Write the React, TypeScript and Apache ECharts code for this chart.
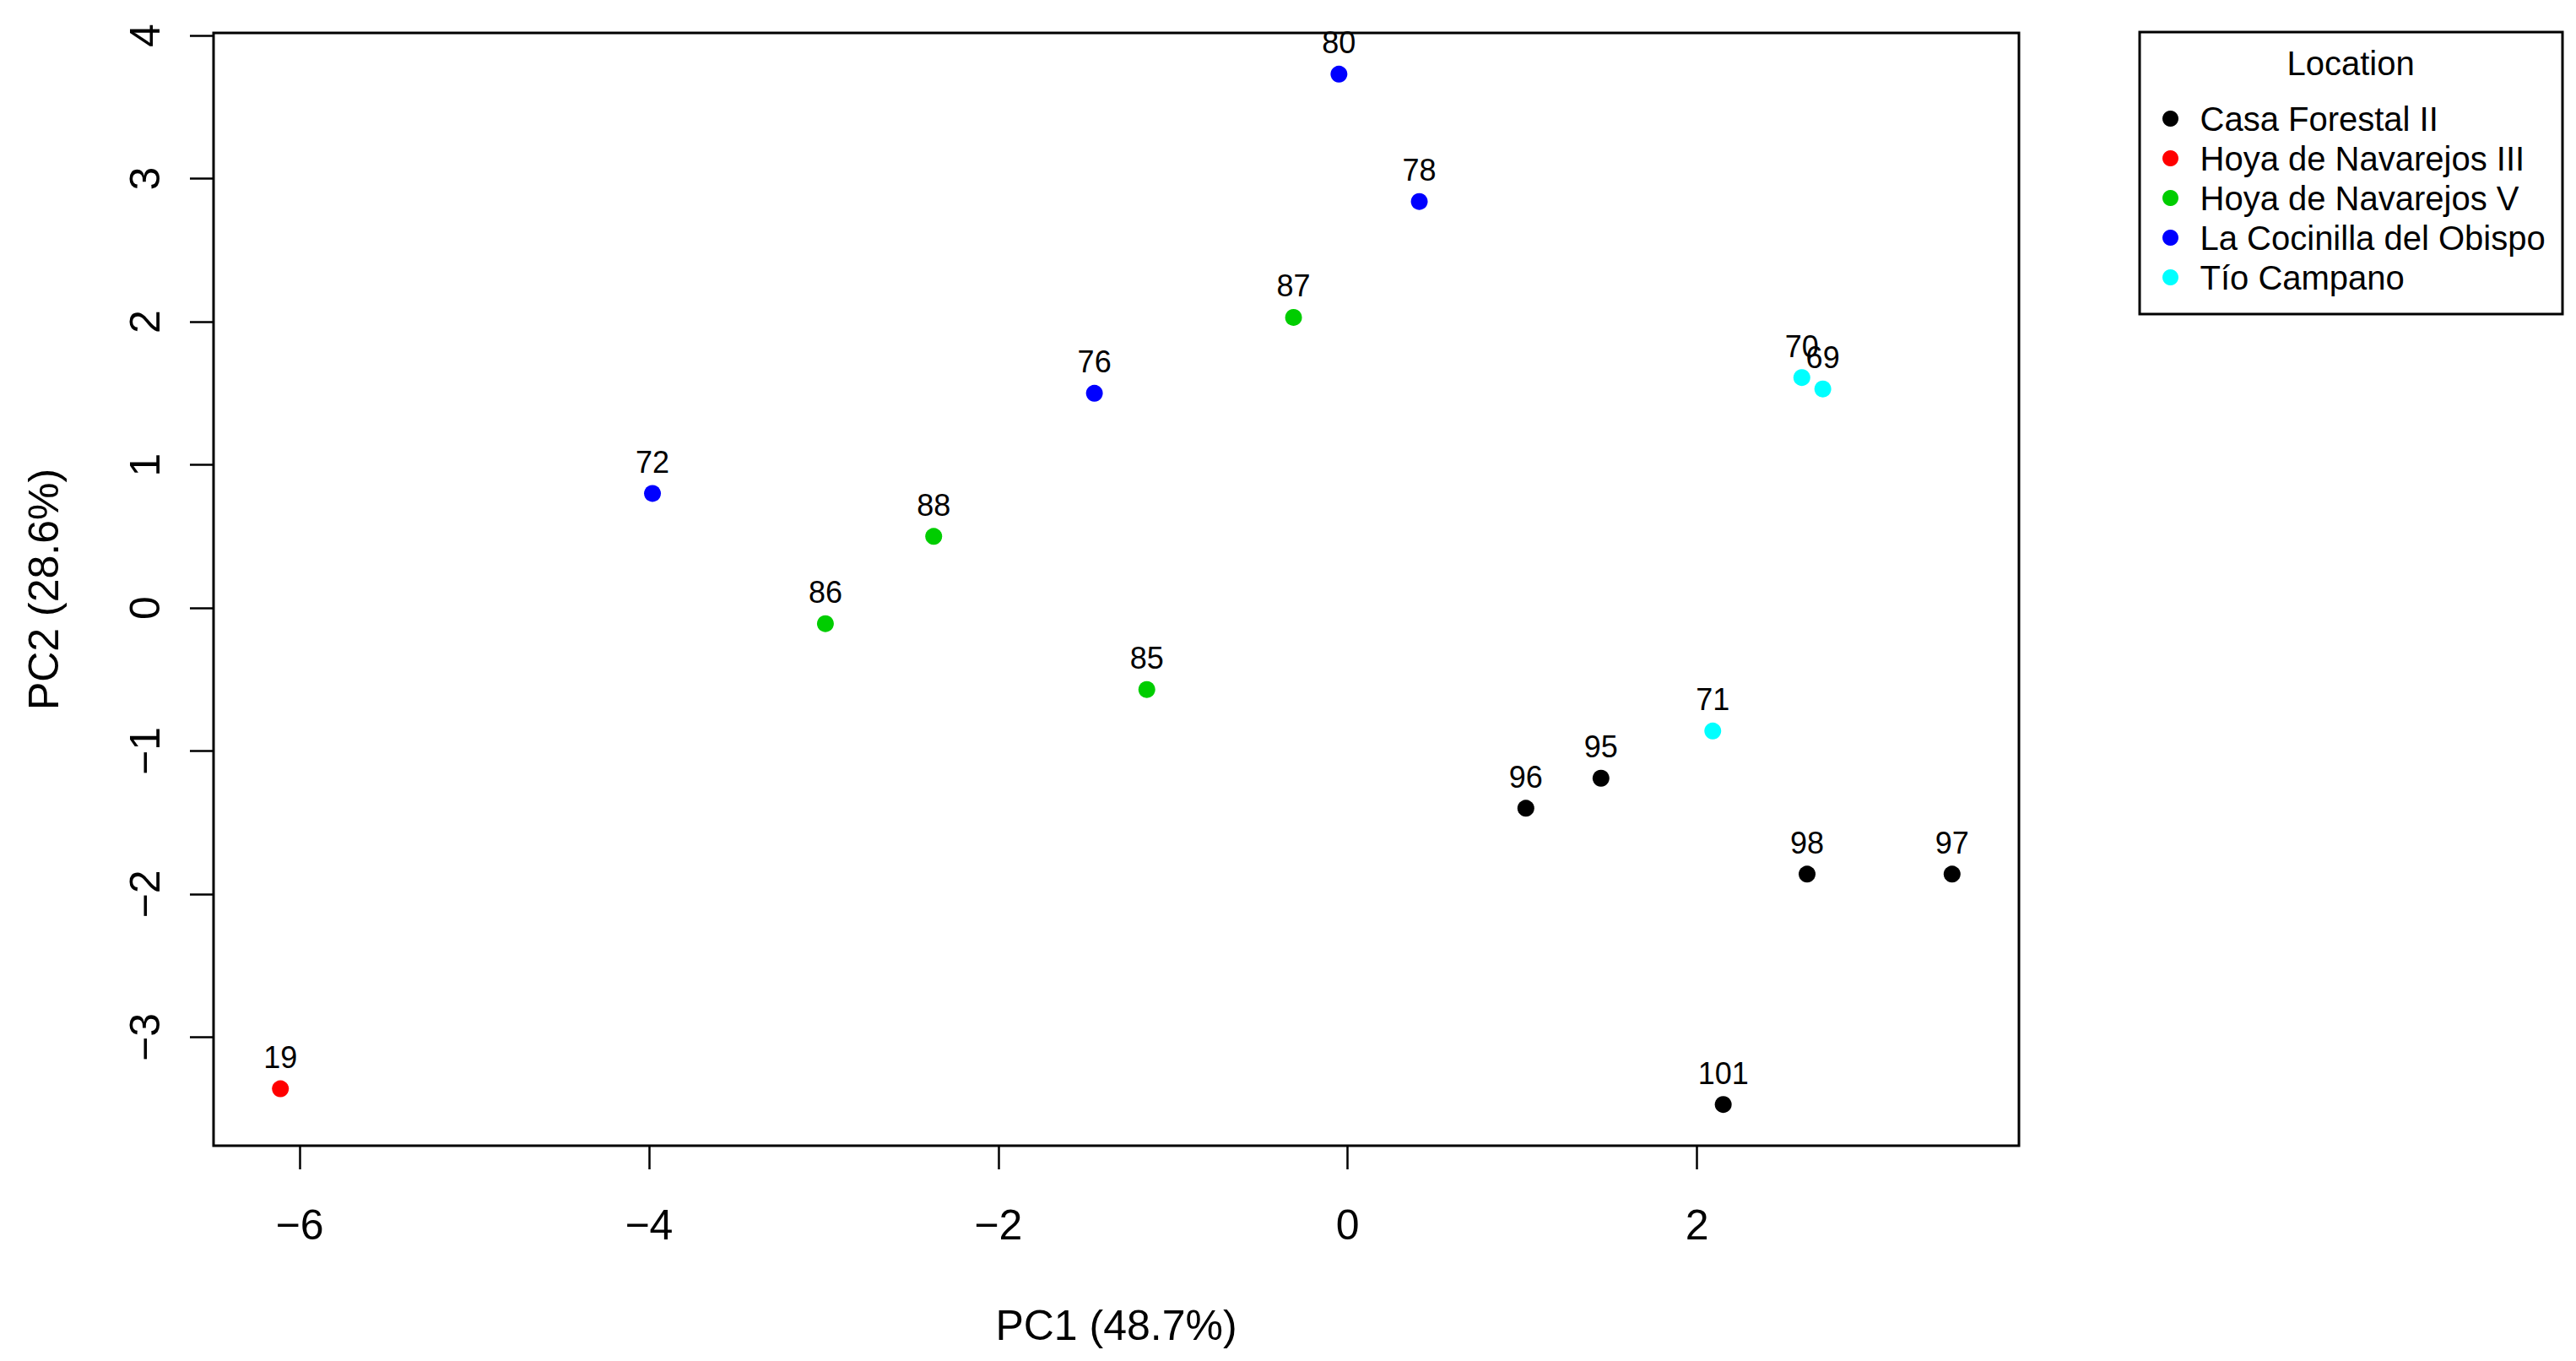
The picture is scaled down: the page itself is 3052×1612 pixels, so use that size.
import React, { useEffect, useRef } from "react";
import * as echarts from "echarts";

// ---- data ----
const locations = [
  "Casa Forestal II",
  "Hoya de Navarejos III",
  "Hoya de Navarejos V",
  "La Cocinilla del Obispo",
  "Tío Campano",
];

const casaIds = ["96", "95", "98", "97", "101"];
const casaPC1 = [1.02, 1.45, 2.63, 3.46, 2.15];
const casaPC2 = [-1.4, -1.19, -1.86, -1.86, -3.47];

const hoya3Ids = ["19"];
const hoya3PC1 = [-6.11];
const hoya3PC2 = [-3.36];

const hoya5Ids = ["87", "88", "86", "85"];
const hoya5PC1 = [-0.31, -2.37, -2.99, -1.15];
const hoya5PC2 = [2.03, 0.5, -0.11, -0.57];

const cocinillaIds = ["80", "78", "76", "72"];
const cocinillaPC1 = [-0.05, 0.41, -1.45, -3.98];
const cocinillaPC2 = [3.73, 2.84, 1.5, 0.8];

const tioIds = ["70", "69", "71"];
const tioPC1 = [2.6, 2.72, 2.09];
const tioPC2 = [1.61, 1.53, -0.86];

const xTicks = [-6, -4, -2, 0, 2];
const yTicks = [-3, -2, -1, 0, 1, 2, 3, 4];
const xTitle = "PC1 (48.7%)";
const yTitle = "PC2 (28.6%)";
const legendTitle = "Location";

const groups = [
  { ids: casaIds, x: casaPC1, y: casaPC2 },
  { ids: hoya3Ids, x: hoya3PC1, y: hoya3PC2 },
  { ids: hoya5Ids, x: hoya5PC1, y: hoya5PC2 },
  { ids: cocinillaIds, x: cocinillaPC1, y: cocinillaPC2 },
  { ids: tioIds, x: tioPC1, y: tioPC2 },
];
const colors = ["#000000", "#FF0000", "#00CD00", "#0000FF", "#00FFFF"];

const FONT = '"Liberation Sans", Arial, sans-serif';
const fmt = (v: number) => (v < 0 ? "\u2212" + Math.abs(v) : String(v));

// R-style 4% range extension
const ext = (arr: number[]) => {
  const mn = Math.min(...arr);
  const mx = Math.max(...arr);
  const d = (mx - mn) * 0.04;
  return [mn - d, mx + d];
};

export default function App() {
  const ref = useRef<HTMLDivElement>(null);
  useEffect(() => {
    if (!ref.current) return;
    const chart = echarts.init(ref.current, undefined, { renderer: "svg" });
    const allX = groups.flatMap((g) => g.x);
    const allY = groups.flatMap((g) => g.y);
    const [xMin, xMax] = ext(allX);
    const [yMin, yMax] = ext(allY);

    const series = groups.map((g, gi) => ({
      type: "scatter",
      name: locations[gi],
      symbol: "circle",
      symbolSize: 20,
      itemStyle: { color: colors[gi], opacity: 1 },
      label: {
        show: true,
        position: "top",
        distance: 9,
        color: "#000",
        fontSize: 36,
        fontFamily: FONT,
        formatter: (p: any) => p.value[2],
      },
      data: g.x.map((xv, i) => [xv, g.y[i], g.ids[i]]),
    }));

    chart.setOption({
      animation: false,
      backgroundColor: "#ffffff",
      textStyle: { fontFamily: FONT },
      grid: {
        left: 253,
        top: 39,
        width: 2139,
        height: 1318,
        show: true,
        borderColor: "#000",
        borderWidth: 3,
        backgroundColor: "transparent",
      },
      xAxis: {
        type: "value",
        min: xMin,
        max: xMax,
        name: xTitle,
        nameLocation: "middle",
        nameGap: 188,
        nameTextStyle: { fontSize: 50, color: "#000", fontFamily: FONT },
        axisLine: { show: false, onZero: false },
        splitLine: { show: false },
        axisTick: {
          show: true,
          length: 28,
          customValues: xTicks,
          lineStyle: { color: "#000", width: 2.5 },
        },
        axisLabel: {
          customValues: xTicks,
          formatter: (v: number) => fmt(v),
          fontSize: 50,
          color: "#000",
          margin: 69,
          fontFamily: FONT,
        },
      },
      yAxis: {
        type: "value",
        min: yMin,
        max: yMax,
        name: yTitle,
        nameLocation: "middle",
        nameGap: 176,
        nameRotate: 90,
        nameTextStyle: { fontSize: 50, color: "#000", fontFamily: FONT },
        axisLine: { show: false, onZero: false },
        splitLine: { show: false },
        axisTick: {
          show: true,
          length: 28,
          customValues: yTicks,
          lineStyle: { color: "#000", width: 2.5 },
        },
        axisLabel: {
          customValues: yTicks,
          formatter: (v: number) => fmt(v),
          rotate: 90,
          fontSize: 50,
          color: "#000",
          margin: 56,
          fontFamily: FONT,
        },
      },
      legend: {
        orient: "vertical",
        left: 2562,
        top: 117,
        padding: 0,
        itemGap: 0,
        itemWidth: 40,
        itemHeight: 19,
        icon: "circle",
        selectedMode: false,
        textStyle: {
          fontSize: 40,
          color: "#000",
          fontFamily: FONT,
          lineHeight: 47,
          padding: [0, 0, 0, 10],
        },
        data: locations,
      },
      graphic: [
        {
          type: "rect",
          shape: { x: 2535, y: 38, width: 501, height: 334 },
          style: { fill: "none", stroke: "#000", lineWidth: 3 },
          silent: true,
        },
        {
          type: "text",
          x: 2785,
          y: 75,
          style: {
            text: legendTitle,
            fontSize: 40,
            fontFamily: FONT,
            fill: "#000",
            align: "center",
            verticalAlign: "middle",
          },
        },
      ],
      series,
    });
    return () => chart.dispose();
  }, []);
  return (
    <div
      ref={ref}
      style={{ position: "fixed", left: 0, top: 0, width: 3052, height: 1612, background: "#fff" }}
    />
  );
}
